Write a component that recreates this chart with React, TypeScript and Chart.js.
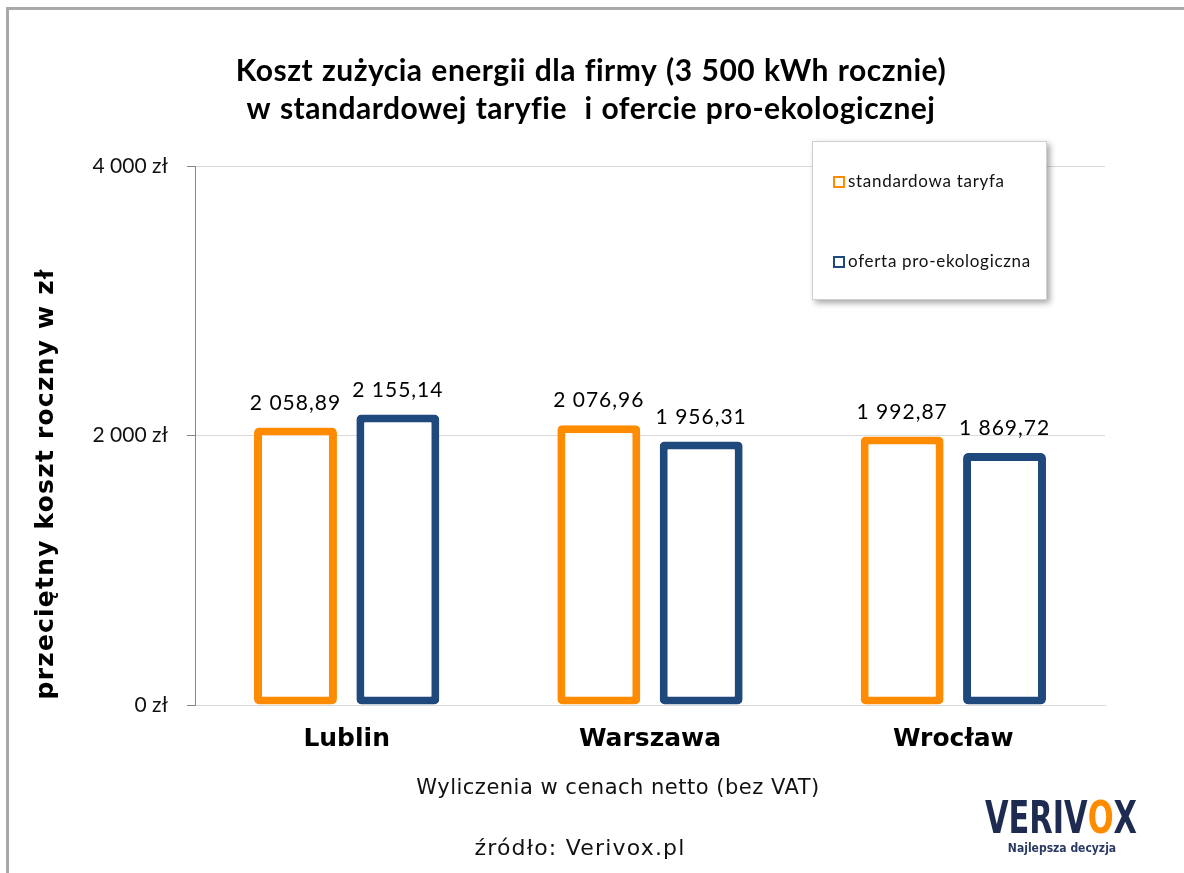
import React, { useEffect, useRef } from "react";
import { Chart, registerables } from "chart.js";

Chart.register(...registerables);

const categories = ["Lublin", "Warszawa", "Wrocław"];
const seriesNames = ["standardowa taryfa", "oferta pro-ekologiczna"];
const standardValues = [2058.89, 2076.96, 1992.87];
const ecoValues = [2155.14, 1956.31, 1869.72];
const yTickValues = [0, 2000, 4000];
const titleLines = [
  "Koszt zużycia energii dla firmy (3 500 kWh rocznie)",
  "w standardowej taryfie  i ofercie pro-ekologicznej",
];
const yAxisTitle = "przeciętny koszt roczny w zł";
const noteText = "Wyliczenia w cenach netto (bez VAT)";
const sourceText = "źródło: Verivox.pl";
const logoParts = ["VERIV", "O", "X"];
const logoTagline = "Najlepsza decyzja";

const ORANGE = "#FF8C00";
const BLUE = "#1F497D";
const NAVY = "#1c2b4f";

function fmtThousands(v: number, decimals: number): string {
  const fixed = v.toFixed(decimals);
  const [intPart, decPart] = fixed.split(".");
  const intS = intPart.replace(/\B(?=(\d{3})+(?!\d))/g, " ");
  return decPart ? intS + "," + decPart : intS;
}

const decorPlugin = {
  id: "decor",
  beforeDraw(chart: any) {
    const ctx = chart.ctx as CanvasRenderingContext2D;
    ctx.save();
    ctx.fillStyle = "#ffffff";
    ctx.fillRect(0, 0, chart.width, chart.height);
    ctx.strokeStyle = "#a9a9a9";
    ctx.lineWidth = 3;
    ctx.beginPath();
    ctx.moveTo(7.5, chart.height);
    ctx.lineTo(7.5, 8.5);
    ctx.lineTo(chart.width, 8.5);
    ctx.stroke();
    ctx.restore();
  },
  afterDraw(chart: any) {
    const ctx = chart.ctx as CanvasRenderingContext2D;
    const c: any = ctx;
    ctx.save();
    // Title
    ctx.fillStyle = "#000000";
    ctx.textAlign = "center";
    ctx.textBaseline = "middle";
    ctx.font = "bold 30px Lato";
    c.letterSpacing = "0.5px";
    c.wordSpacing = "1px";
    ctx.fillText(titleLines[0], 591, 71);
    ctx.fillText(titleLines[1], 591, 109);
    c.wordSpacing = "0px";

    // Y axis title
    ctx.save();
    ctx.translate(46, 484);
    ctx.rotate(-Math.PI / 2);
    ctx.font = 'bold 25px "DejaVu Sans"';
    c.letterSpacing = "1.2px";
    ctx.fillText(yAxisTitle, 0, 0);
    ctx.restore();

    // Data labels
    ctx.font = "21px Lato";
    c.letterSpacing = "1px";
    ctx.textBaseline = "bottom";
    chart.data.datasets.forEach((ds: any, di: number) => {
      const meta = chart.getDatasetMeta(di);
      meta.data.forEach((el: any, i: number) => {
        ctx.fillStyle = "#000000";
        ctx.fillText(fmtThousands(ds.data[i], 2), el.x, el.y - 14);
      });
    });

    // Legend box
    const lx = 812, ly = 141, lw = 235, lh = 159;
    ctx.save();
    ctx.shadowColor = "rgba(0,0,0,0.35)";
    ctx.shadowBlur = 6;
    ctx.shadowOffsetX = 3;
    ctx.shadowOffsetY = 3;
    ctx.fillStyle = "#ffffff";
    ctx.fillRect(lx, ly, lw, lh);
    ctx.restore();
    ctx.strokeStyle = "#d0d0d0";
    ctx.lineWidth = 1;
    ctx.strokeRect(lx + 0.5, ly + 0.5, lw - 1, lh - 1);
    const colors = [ORANGE, BLUE];
    const itemY = [182, 262];
    ctx.font = "17px Lato";
    c.letterSpacing = "0.7px";
    ctx.textAlign = "left";
    ctx.textBaseline = "middle";
    seriesNames.forEach((name, i) => {
      ctx.strokeStyle = colors[i];
      ctx.lineWidth = 2;
      ctx.strokeRect(834, itemY[i] - 5, 10, 10);
      ctx.fillStyle = "#111111";
      ctx.fillText(name, 848, itemY[i]);
    });

    // Bottom texts
    ctx.textAlign = "center";
    ctx.fillStyle = "#111111";
    ctx.font = '21px "DejaVu Sans"';
    c.letterSpacing = "0.5px";
    ctx.fillText(noteText, 618, 789);
    ctx.font = '22px "DejaVu Sans"';
    c.letterSpacing = "1.2px";
    ctx.fillText(sourceText, 580, 849);
    c.letterSpacing = "0px";

    // Logo
    ctx.textAlign = "left";
    ctx.textBaseline = "alphabetic";
    ctx.font = 'bold 44px "DejaVu Sans Condensed", "DejaVu Sans"';
    const widths = logoParts.map((p) => ctx.measureText(p).width);
    const total = widths.reduce((a, b) => a + b, 0);
    const sx = 152 / total;
    ctx.save();
    ctx.translate(985, 833);
    ctx.scale(sx, 1);
    let cx = 0;
    logoParts.forEach((p, i) => {
      ctx.fillStyle = i === 1 ? ORANGE : NAVY;
      ctx.fillText(p, cx, 0);
      cx += widths[i];
    });
    ctx.restore();
    ctx.font = 'bold 12px "DejaVu Sans Condensed", "DejaVu Sans"';
    ctx.fillStyle = "#2b3a63";
    ctx.textAlign = "center";
    ctx.fillText(logoTagline, 1062, 852);

    ctx.restore();
  },
};

export default function App() {
  const canvasRef = useRef<HTMLCanvasElement | null>(null);

  useEffect(() => {
    if (!canvasRef.current) return;
    const chart = new Chart(canvasRef.current, {
      type: "bar",
      data: {
        labels: categories,
        datasets: [
          {
            label: seriesNames[0],
            data: standardValues,
            backgroundColor: "#ffffff",
            borderColor: ORANGE,
            borderWidth: 8,
            borderRadius: 5,
            borderSkipped: false,
            barPercentage: 0.81,
            categoryPercentage: 0.675,
          },
          {
            label: seriesNames[1],
            data: ecoValues,
            backgroundColor: "#ffffff",
            borderColor: BLUE,
            borderWidth: 8,
            borderRadius: 5,
            borderSkipped: false,
            barPercentage: 0.81,
            categoryPercentage: 0.675,
          },
        ],
      },
      options: {
        responsive: false,
        animation: false,
        layout: { padding: { top: 166, right: 79, left: 0, bottom: 0 } },
        plugins: {
          legend: { display: false },
          tooltip: { enabled: false },
          title: { display: false },
        },
        scales: {
          x: {
            grid: { display: false, drawTicks: false },
            border: { display: true, color: "#d9d9d9", width: 1 },
            ticks: {
              color: "#000000",
              font: { family: "DejaVu Sans", size: 25, weight: "bold" },
              padding: 19,
            },
            afterFit: (scale: any) => {
              scale.height = 168;
            },
          },
          y: {
            min: 0,
            max: 4000,
            afterBuildTicks: (scale: any) => {
              scale.ticks = yTickValues.map((v) => ({ value: v }));
            },
            grid: {
              color: "#d9d9d9",
              tickColor: "#868686",
              tickLength: 8,
              drawTicks: true,
            },
            border: { display: true, color: "#868686", width: 1 },
            ticks: {
              color: "#111111",
              font: { family: "Lato", size: 21 },
              padding: 19,
              callback: (v: any) => fmtThousands(Number(v), 0) + " zł",
            },
            afterFit: (scale: any) => {
              scale.width = 195;
            },
          },
        },
      },
      plugins: [decorPlugin],
    });
    return () => chart.destroy();
  }, []);

  return (
    <div style={{ position: "fixed", left: 0, top: 0, width: 1184, height: 873, background: "#fff" }}>
      <canvas ref={canvasRef} width={1184} height={873} style={{ width: 1184, height: 873, display: "block" }} />
    </div>
  );
}
